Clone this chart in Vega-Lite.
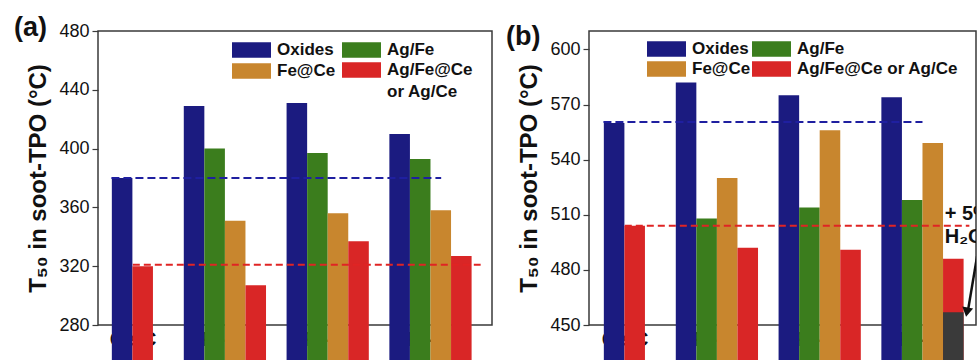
{
  "$schema": "https://vega.github.io/schema/vega-lite/v6.json",
  "background": "white",
  "padding": {"left": 13, "top": 13, "right": 0, "bottom": 0},
  "spacing": 12,
  "resolve": {"legend": {"color": "independent"}, "scale": {"color": "independent"}},
  "config": {
    "font": "Liberation Sans",
    "view": {"stroke": "#3a3a3a", "strokeWidth": 1.5},
    "axis": {"grid": false, "domain": false, "tickColor": "#3a3a3a", "tickWidth": 1.2, "labelFont": "Liberation Sans", "labelColor": "#111111", "titleColor": "#111111", "titleFont": "Liberation Sans"},
    "legend": {"labelFont": "Liberation Sans", "labelColor": "#111111"}
  },
  "datasets": {
    "barsA": [
      {"sample": "Ce-C", "series": "Oxides", "T50": 380},
      {"sample": "Ce-C", "series": "Ag/Fe@Ce or Ag/Ce", "T50": 320},
      {"sample": "Fe-C", "series": "Oxides", "T50": 429},
      {"sample": "Fe-C", "series": "Ag/Fe", "T50": 400},
      {"sample": "Fe-C", "series": "Fe@Ce", "T50": 351},
      {"sample": "Fe-C", "series": "Ag/Fe@Ce or Ag/Ce", "T50": 307},
      {"sample": "Fe-R", "series": "Oxides", "T50": 431},
      {"sample": "Fe-R", "series": "Ag/Fe", "T50": 397},
      {"sample": "Fe-R", "series": "Fe@Ce", "T50": 356},
      {"sample": "Fe-R", "series": "Ag/Fe@Ce or Ag/Ce", "T50": 337},
      {"sample": "Fe-O", "series": "Oxides", "T50": 410},
      {"sample": "Fe-O", "series": "Ag/Fe", "T50": 393},
      {"sample": "Fe-O", "series": "Fe@Ce", "T50": 358},
      {"sample": "Fe-O", "series": "Ag/Fe@Ce or Ag/Ce", "T50": 327}
    ],
    "linesA": [
      {"series": "Oxides", "T50": 380, "from": "Ce-C", "to": "Fe-O"},
      {"series": "Ag/Fe@Ce or Ag/Ce", "T50": 321, "from": "Ce-C", "to": "Fe-O"}
    ],
    "barsB": [
      {"sample": "Ce-C", "series": "Oxides", "T50": 560},
      {"sample": "Ce-C", "series": "Ag/Fe@Ce or Ag/Ce", "T50": 504},
      {"sample": "Fe-C", "series": "Oxides", "T50": 582},
      {"sample": "Fe-C", "series": "Ag/Fe", "T50": 508},
      {"sample": "Fe-C", "series": "Fe@Ce", "T50": 530},
      {"sample": "Fe-C", "series": "Ag/Fe@Ce or Ag/Ce", "T50": 492},
      {"sample": "Fe-R", "series": "Oxides", "T50": 575},
      {"sample": "Fe-R", "series": "Ag/Fe", "T50": 514},
      {"sample": "Fe-R", "series": "Fe@Ce", "T50": 556},
      {"sample": "Fe-R", "series": "Ag/Fe@Ce or Ag/Ce", "T50": 491},
      {"sample": "Fe-O", "series": "Oxides", "T50": 574},
      {"sample": "Fe-O", "series": "Ag/Fe", "T50": 518},
      {"sample": "Fe-O", "series": "Fe@Ce", "T50": 549},
      {"sample": "Fe-O", "series": "Ag/Fe@Ce or Ag/Ce", "T50": 486}
    ],
    "linesB": [
      {"series": "Oxides", "T50": 560.5, "from": "Ce-C", "to": "Fe-O"},
      {"series": "Ag/Fe@Ce or Ag/Ce", "T50": 504, "from": "Ce-C", "to": "Fe-O"}
    ],
    "waterB": [
      {"sample": "Fe-O", "series": "Ag/Fe@Ce or Ag/Ce", "T50": 457, "condition": "+ 5% H2O"}
    ],
    "noteB": [
      {"sample": "Fe-O", "T50": 507, "label": "+ 5%"},
      {"sample": "Fe-O", "T50": 494.5, "label": "H₂O"}
    ],
    "arrowB": [
      {"sample": "Fe-O", "T50": 489, "T50end": 457}
    ]
  },
  "hconcat": [
    {
      "width": 394,
      "height": 294,
      "title": {"text": "(a)", "anchor": "start", "frame": "group", "orient": "top", "fontSize": 27, "fontWeight": "bold", "color": "#111111", "font": "Liberation Sans", "dx": -84, "dy": 8, "offset": -33, "baseline": "alphabetic"},
      "layer": [
        {
          "data": {"name": "barsA"},
          "transform": [{"filter": "datum.sample != 'Ce-C'"}],
          "mark": {"type": "bar"},
          "encoding": {
            "x": {"field": "sample", "type": "nominal", "sort": null,
              "scale": {"domain": ["Ce-C", "Fe-C", "Fe-R", "Fe-O"], "range": [-17, 373.6], "paddingInner": 0.2, "paddingOuter": 0},
              "axis": {"title": null, "ticks": false, "tickSize": 0, "labelFontSize": 20, "labelFontWeight": "bold", "labelPadding": 4, "labelAngle": 0, "labelBaseline": "top",
                "labelOffset": {"condition": {"test": "datum.value == 'Ce-C'", "value": 11}, "value": -2}}},
            "xOffset": {"field": "series", "type": "nominal", "scale": {"domain": ["Oxides", "Ag/Fe", "Fe@Ce", "Ag/Fe@Ce or Ag/Ce"], "paddingInner": 0, "paddingOuter": 0}},
            "y": {"field": "T50", "type": "quantitative", "scale": {"domain": [280, 480], "nice": false, "zero": false},
              "axis": {"values": [280, 300, 320, 340, 360, 380, 400, 420, 440, 460, 480],
                "labelExpr": "datum.value % 40 == 0 ? datum.label : ''",
                "tickSize": {"condition": {"test": "datum.value % 40 != 0", "value": 3}, "value": 6},
                "labelFontSize": 18, "labelPadding": 3, "labelOverlap": false,
                "title": "T₅₀ in soot-TPO (°C)", "titleFontSize": 24, "titleFontWeight": "bold", "titlePadding": 8}},
            "color": {"field": "series", "type": "nominal",
              "scale": {"domain": ["Oxides", "Fe@Ce", "Ag/Fe", "Ag/Fe@Ce or Ag/Ce"], "range": ["#1b1b80", "#c8862e", "#3b7d1d", "#d92626"]},
              "legend": {"orient": "none", "legendX": 134, "legendY": 9, "columns": 2, "title": null,
                "symbolType": "M-2,-0.8H2V0.8H-2Z", "symbolSize": 380, "symbolStrokeWidth": 0, "symbolOffset": 9.5,
                "labelFontSize": 17, "labelFontWeight": "bold", "labelOffset": 15.5, "columnPadding": 6, "rowPadding": 2, "labelLimit": 300,
                "labelExpr": "datum.label == 'Ag/Fe@Ce or Ag/Ce' ? ['Ag/Fe@Ce', 'or Ag/Ce'] : datum.label",
                "encode": {"labels": {"update": {"lineHeight": {"value": 22}}}}}}
          }
        },
        {
          "data": {"name": "barsA"},
          "transform": [{"filter": "datum.sample == 'Ce-C'"}],
          "mark": {"type": "bar"},
          "encoding": {
            "x": {"field": "sample", "type": "nominal", "sort": null},
            "xOffset": {"field": "series", "type": "nominal", "scale": {"domain": [" ", "Oxides", "Ag/Fe@Ce or Ag/Ce"], "paddingInner": 0, "paddingOuter": 0.5}},
            "y": {"field": "T50", "type": "quantitative"},
            "color": {"field": "series", "type": "nominal"}
          }
        },
        {
          "data": {"name": "linesA"},
          "transform": [{"filter": "datum.series == 'Oxides'"}],
          "mark": {"type": "rule", "color": "#1f1fa0", "strokeWidth": 2, "strokeDash": [8, 4]},
          "encoding": {
            "x": {"field": "from", "type": "nominal", "bandPosition": 0.37},
            "x2": {"field": "to", "bandPosition": 0.63},
            "y": {"field": "T50", "type": "quantitative"}
          }
        },
        {
          "data": {"name": "linesA"},
          "transform": [{"filter": "datum.series != 'Oxides'"}],
          "mark": {"type": "rule", "color": "#e02424", "strokeWidth": 2, "strokeDash": [7, 4]},
          "encoding": {
            "x": {"field": "from", "type": "nominal", "bandPosition": 0.63},
            "x2": {"field": "to", "bandPosition": 1.11},
            "y": {"field": "T50", "type": "quantitative"}
          }
        }
      ],
      "resolve": {"scale": {"xOffset": "independent"}}
    },
    {
      "width": 387,
      "height": 294,
      "title": {"text": "(b)", "anchor": "start", "frame": "group", "orient": "top", "fontSize": 27, "fontWeight": "bold", "color": "#111111", "font": "Liberation Sans", "dx": -83, "dy": 8, "offset": -33, "baseline": "alphabetic"},
      "layer": [
        {
          "data": {"name": "barsB"},
          "transform": [{"filter": "datum.sample != 'Ce-C'"}],
          "mark": {"type": "bar"},
          "encoding": {
            "x": {"field": "sample", "type": "nominal", "sort": null,
              "scale": {"domain": ["Ce-C", "Fe-C", "Fe-R", "Fe-O"], "range": [-16, 374.6], "paddingInner": 0.2, "paddingOuter": 0},
              "axis": {"title": null, "ticks": false, "tickSize": 0, "labelFontSize": 20, "labelFontWeight": "bold", "labelPadding": 4, "labelAngle": 0, "labelBaseline": "top",
                "labelOffset": {"condition": {"test": "datum.value == 'Ce-C'", "value": 11}, "value": -2}}},
            "xOffset": {"field": "series", "type": "nominal", "scale": {"domain": ["Oxides", "Ag/Fe", "Fe@Ce", "Ag/Fe@Ce or Ag/Ce"], "paddingInner": 0, "paddingOuter": 0}},
            "y": {"field": "T50", "type": "quantitative", "scale": {"domain": [450, 610], "nice": false, "zero": false},
              "axis": {"values": [450, 465, 480, 495, 510, 525, 540, 555, 570, 585, 600],
                "labelExpr": "datum.value % 30 == 0 ? datum.label : ''",
                "tickSize": {"condition": {"test": "datum.value % 30 != 0", "value": 3}, "value": 6},
                "labelFontSize": 18, "labelPadding": 3, "labelOverlap": false,
                "title": "T₅₀ in soot-TPO (°C)", "titleFontSize": 24, "titleFontWeight": "bold", "titlePadding": 8}},
            "color": {"field": "series", "type": "nominal",
              "scale": {"domain": ["Oxides", "Fe@Ce", "Ag/Fe", "Ag/Fe@Ce or Ag/Ce"], "range": ["#1b1b80", "#c8862e", "#3b7d1d", "#d92626"]},
              "legend": {"orient": "none", "legendX": 58, "legendY": 8, "columns": 2, "title": null,
                "symbolType": "M-2,-0.8H2V0.8H-2Z", "symbolSize": 380, "symbolStrokeWidth": 0, "symbolOffset": 9.5,
                "labelFontSize": 17, "labelFontWeight": "bold", "labelOffset": 15.5, "columnPadding": 1, "rowPadding": 2, "labelLimit": 300}}
          }
        },
        {
          "data": {"name": "barsB"},
          "transform": [{"filter": "datum.sample == 'Ce-C'"}],
          "mark": {"type": "bar"},
          "encoding": {
            "x": {"field": "sample", "type": "nominal", "sort": null},
            "xOffset": {"field": "series", "type": "nominal", "scale": {"domain": [" ", "Oxides", "Ag/Fe@Ce or Ag/Ce"], "paddingInner": 0, "paddingOuter": 0.5}},
            "y": {"field": "T50", "type": "quantitative"},
            "color": {"field": "series", "type": "nominal"}
          }
        },
        {
          "data": {"name": "waterB"},
          "mark": {"type": "bar", "color": "#3a3a3a"},
          "encoding": {
            "x": {"field": "sample", "type": "nominal", "sort": null},
            "xOffset": {"field": "series", "type": "nominal", "scale": {"domain": ["Oxides", "Ag/Fe", "Fe@Ce", "Ag/Fe@Ce or Ag/Ce"], "paddingInner": 0, "paddingOuter": 0}},
            "y": {"field": "T50", "type": "quantitative"}
          }
        },
        {
          "data": {"name": "linesB"},
          "transform": [{"filter": "datum.series == 'Oxides'"}],
          "mark": {"type": "rule", "color": "#1f1fa0", "strokeWidth": 2, "strokeDash": [8, 4]},
          "encoding": {
            "x": {"field": "from", "type": "nominal", "bandPosition": 0.37},
            "x2": {"field": "to", "bandPosition": 0.5},
            "y": {"field": "T50", "type": "quantitative"}
          }
        },
        {
          "data": {"name": "linesB"},
          "transform": [{"filter": "datum.series != 'Oxides'"}],
          "mark": {"type": "rule", "color": "#e02424", "strokeWidth": 2, "strokeDash": [7, 4], "clip": true},
          "encoding": {
            "x": {"field": "from", "type": "nominal", "bandPosition": 0.63},
            "x2": {"field": "to", "bandPosition": 1.07},
            "y": {"field": "T50", "type": "quantitative"}
          }
        },
        {
          "data": {"name": "noteB"},
          "mark": {"type": "text", "align": "left", "baseline": "alphabetic", "fontSize": 20, "fontWeight": "bold", "color": "#111111", "font": "Liberation Sans", "clip": true},
          "encoding": {
            "x": {"field": "sample", "type": "nominal", "bandPosition": 0.77},
            "y": {"field": "T50", "type": "quantitative"},
            "text": {"field": "label"}
          }
        },
        {
          "data": {"name": "arrowB"},
          "mark": {"type": "rule", "color": "#111111", "strokeWidth": 2.5, "clip": true},
          "encoding": {
            "x": {"field": "sample", "type": "nominal", "bandPosition": 1.17},
            "x2": {"field": "sample", "bandPosition": 1.05},
            "y": {"field": "T50", "type": "quantitative"},
            "y2": {"field": "T50end"}
          }
        },
        {
          "data": {"name": "arrowB"},
          "mark": {"type": "point", "shape": "triangle-down", "filled": true, "color": "#111111", "size": 120, "angle": 10, "opacity": 1, "clip": true},
          "encoding": {
            "x": {"field": "sample", "type": "nominal", "bandPosition": 1.04},
            "y": {"field": "T50end", "type": "quantitative"}
          }
        }
      ],
      "resolve": {"scale": {"xOffset": "independent"}}
    }
  ]
}
